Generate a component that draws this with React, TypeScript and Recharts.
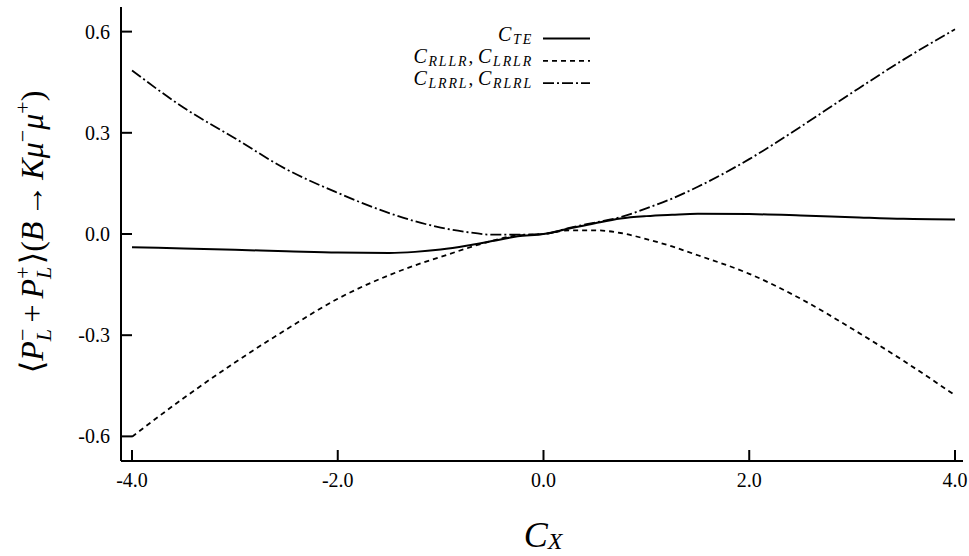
import React from "react";
import { LineChart, Line, XAxis, YAxis, Legend } from "recharts";

const cx = [-4, -3.5, -3, -2.5, -2, -1.5, -1.25, -1, -0.75, -0.5, -0.25, 0, 0.25, 0.5, 0.75, 1, 1.25, 1.5, 2, 2.5, 3, 3.5, 4];
const cTE = [-0.039, -0.043, -0.047, -0.051, -0.055, -0.056, -0.053, -0.046, -0.035, -0.021, -0.007, 0, 0.016, 0.032, 0.046, 0.053, 0.057, 0.06, 0.059, 0.055, 0.05, 0.045, 0.043];
const cRLLR = [-0.601, -0.487, -0.381, -0.283, -0.192, -0.122, -0.093, -0.068, -0.043, -0.02, -0.004, 0, 0.011, 0.011, 0.003, -0.015, -0.037, -0.063, -0.118, -0.192, -0.281, -0.376, -0.478];
const cLRRL = [0.485, 0.375, 0.284, 0.192, 0.122, 0.062, 0.038, 0.019, 0.006, -0.002, -0.002, 0, 0.018, 0.034, 0.05, 0.076, 0.105, 0.14, 0.222, 0.318, 0.419, 0.517, 0.607];

const xTicks = [-4, -2, 0, 2, 4];
const yTicks = [-0.6, -0.3, 0, 0.3, 0.6];
const xDomain = [-4.107, 4.078];
const yDomain = [-0.673, 0.673];

const data = cx.map((x, i) => ({ x, te: cTE[i], rllr: cRLLR[i], lrrl: cLRRL[i] }));

const FONT = "Liberation Serif, DejaVu Serif, Times New Roman, serif";
const BLACK = "#000";

const XTickBottom = (p: any) => (
  <g>
    <line x1={p.x} x2={p.x} y1={p.y} y2={p.y - 11} stroke={BLACK} strokeWidth={2} />
    <text x={p.x} y={p.y + 26} textAnchor="middle" style={{ fontFamily: FONT }} fontSize={20} fill={BLACK}>
      {Number(p.payload.value).toFixed(1)}
    </text>
  </g>
);
const XTickTop = (p: any) => (
  <line x1={p.x} x2={p.x} y1={p.y} y2={p.y + 11} stroke={BLACK} strokeWidth={2} />
);
const YTickLeft = (p: any) => (
  <g>
    <line x1={p.x} x2={p.x + 11} y1={p.y} y2={p.y} stroke={BLACK} strokeWidth={2} />
    <text x={p.x - 11} y={p.y + 7} textAnchor="end" style={{ fontFamily: FONT }} fontSize={20} fill={BLACK}>
      {Number(p.payload.value).toFixed(1)}
    </text>
  </g>
);
const YTickRight = (p: any) => (
  <line x1={p.x} x2={p.x - 11} y1={p.y} y2={p.y} stroke={BLACK} strokeWidth={2} />
);

type Seg = { t: string; it?: boolean; fs: number; shift: number; dx?: number };
const renderSegs = (segs: Seg[]) => {
  let cur = 0;
  return segs.map((s, i) => {
    const dy = s.shift - cur;
    cur = s.shift;
    return (
      <tspan key={i} fontStyle={s.it ? "italic" : "normal"} fontSize={s.fs} dy={dy} dx={s.dx || 0}>
        {s.t}
      </tspan>
    );
  });
};

const yLabelSegs: Seg[] = [
  { t: "\u27E8", fs: 32, shift: 0 },
  { t: "P", it: true, fs: 32, shift: 0 },
  { t: "L", it: true, fs: 22, shift: 8 },
  { t: "\u2212", fs: 22, shift: -13, dx: -12 },
  { t: "+", fs: 32, shift: 0, dx: 6 },
  { t: "P", it: true, fs: 32, shift: 0, dx: 6 },
  { t: "L", it: true, fs: 22, shift: 8 },
  { t: "+", fs: 22, shift: -13, dx: -12 },
  { t: "\u27E9(", fs: 32, shift: 0, dx: 2 },
  { t: "B", it: true, fs: 32, shift: 0 },
  { t: "\u2192", fs: 32, shift: 0, dx: 5 },
  { t: "K", it: true, fs: 32, shift: 0, dx: 5 },
  { t: "\u03BC", it: true, fs: 32, shift: 0 },
  { t: "\u2212", fs: 22, shift: -13 },
  { t: "\u03BC", it: true, fs: 32, shift: 0 },
  { t: "+", fs: 22, shift: -13 },
  { t: ")", fs: 32, shift: 0 },
];

const YTitle = (p: any) => {
  const vb = p.viewBox || { x: 0, y: 7, width: 121, height: 454 };
  const x = vb.x + 43;
  const y = vb.y + vb.height / 2 - 2;
  return (
    <text x={x} y={y} textAnchor="middle" transform={`rotate(-90, ${x}, ${y})`} style={{ fontFamily: FONT }} fill={BLACK}>
      {renderSegs(yLabelSegs)}
    </text>
  );
};

const XTitle = (p: any) => {
  const vb = p.viewBox || { x: 121, y: 461, width: 842, height: 95 };
  const x = vb.x + vb.width / 2 + 1;
  const y = vb.y + 86;
  return (
    <text x={x} y={y} textAnchor="middle" style={{ fontFamily: FONT }} fill={BLACK}>
      {renderSegs([
        { t: "C", it: true, fs: 36, shift: 0 },
        { t: "X", it: true, fs: 24, shift: 2 },
      ])}
    </text>
  );
};

const legendRows = [
  { subs: ["TE"], dash: undefined as string | undefined, w: 2 },
  { subs: ["RLLR", "LRLR"], dash: "5 4", w: 1.8 },
  { subs: ["LRRL", "RLRL"], dash: "11 3 2 3", w: 1.8 },
];

const LegendContent = () => (
  <svg width={969} height={100} style={{ display: "block" }}>
    {legendRows.map((r, i) => {
      const ly = 38.5 + i * 22.3;
      const segs: Seg[] = [];
      r.subs.forEach((s, j) => {
        if (j > 0) segs.push({ t: ",", it: false, fs: 19, shift: 0 });
        segs.push({ t: "C", it: true, fs: 20, shift: 0, dx: j > 0 ? 3 : 0 });
        segs.push({ t: s, it: true, fs: 14, shift: 3 });
      });
      return (
        <g key={i}>
          <text x={533} y={ly + 2} textAnchor="end" style={{ fontFamily: FONT }} fill={BLACK} letterSpacing={1.8}>
            {renderSegs(segs)}
          </text>
          <line x1={543} x2={590} y1={ly} y2={ly} stroke={BLACK} strokeWidth={r.w} strokeDasharray={r.dash} />
        </g>
      );
    })}
  </svg>
);

export default function App() {
  return (
    <div style={{ position: "absolute", left: 0, top: 0, width: 969, height: 556, background: "#fff" }}>
      <LineChart width={969} height={556} data={data} margin={{ top: 7, right: 6, left: 0, bottom: 0 }}>
        <XAxis
          dataKey="x"
          type="number"
          domain={xDomain}
          ticks={xTicks}
          allowDataOverflow
          height={95}
          tickSize={0}
          tickMargin={0}
          tick={<XTickBottom />}
          axisLine={{ stroke: BLACK, strokeWidth: 2 }}
          label={<XTitle />}
        />
        <XAxis
          xAxisId="top"
          orientation="top"
          type="number"
          domain={xDomain}
          ticks={xTicks}
          allowDataOverflow
          height={0}
          tickSize={0}
          tickMargin={0}
          tick={<XTickTop />}
          axisLine={{ stroke: BLACK, strokeWidth: 2 }}
        />
        <YAxis
          type="number"
          domain={yDomain}
          ticks={yTicks}
          allowDataOverflow
          width={121}
          tickSize={0}
          tickMargin={0}
          tick={<YTickLeft />}
          axisLine={{ stroke: BLACK, strokeWidth: 2 }}
          label={<YTitle />}
        />
        <YAxis
          yAxisId="right"
          orientation="right"
          type="number"
          domain={yDomain}
          ticks={yTicks}
          allowDataOverflow
          width={0}
          tickSize={0}
          tickMargin={0}
          tick={<YTickRight />}
          axisLine={{ stroke: BLACK, strokeWidth: 2 }}
        />
        <Legend
          layout="vertical"
          align="center"
          verticalAlign="middle"
          wrapperStyle={{ position: "absolute", left: 0, top: 0, width: 969, height: 100, pointerEvents: "none" }}
          content={<LegendContent />}
        />
        <Line type="monotone" dataKey="te" name="C_TE" stroke={BLACK} strokeWidth={2} dot={false} isAnimationActive={false} />
        <Line type="monotone" dataKey="rllr" name="C_RLLR, C_LRLR" stroke={BLACK} strokeWidth={1.8} strokeDasharray="5 4" dot={false} isAnimationActive={false} />
        <Line type="monotone" dataKey="lrrl" name="C_LRRL, C_RLRL" stroke={BLACK} strokeWidth={1.8} strokeDasharray="11 3 2 3" dot={false} isAnimationActive={false} />
      </LineChart>
    </div>
  );
}
